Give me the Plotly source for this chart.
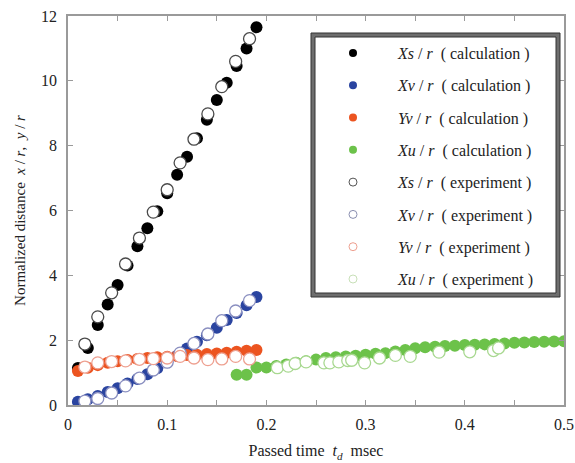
import plotly.graph_objects as go

# ---------------- data ----------------
t_calc = [0.01, 0.02, 0.03, 0.04, 0.05, 0.06, 0.07, 0.08, 0.09, 0.10,
          0.11, 0.12, 0.13, 0.14, 0.15, 0.16, 0.17, 0.18, 0.19]
xs_calc = [1.14, 1.76, 2.47, 3.10, 3.70, 4.30, 4.90, 5.45, 5.98, 6.53,
           7.10, 7.66, 8.23, 8.80, 9.41, 9.94, 10.46, 11.00, 11.65]
xv_calc = [0.10, 0.18, 0.28, 0.40, 0.52, 0.66, 0.80, 0.95, 1.13, 1.32,
           1.52, 1.74, 1.95, 2.15, 2.38, 2.62, 2.84, 3.08, 3.33]
yv_calc = [1.05, 1.15, 1.23, 1.30, 1.35, 1.39, 1.42, 1.45, 1.47, 1.49,
           1.51, 1.54, 1.55, 1.57, 1.59, 1.61, 1.64, 1.67, 1.70]

t_xu_calc = [0.17, 0.18, 0.19, 0.20, 0.21, 0.22, 0.23, 0.24, 0.25, 0.26,
             0.27, 0.28, 0.29, 0.30, 0.31, 0.32, 0.33, 0.34, 0.35, 0.36,
             0.37, 0.38, 0.39, 0.40, 0.41, 0.42, 0.43, 0.44, 0.45, 0.46,
             0.47, 0.48, 0.49, 0.50]
xu_calc = [0.93, 0.93, 1.16, 1.16, 1.20, 1.25, 1.30, 1.35, 1.40, 1.45,
           1.47, 1.50, 1.52, 1.55, 1.58, 1.60, 1.65, 1.70, 1.75, 1.78,
           1.80, 1.82, 1.83, 1.85, 1.86, 1.87, 1.88, 1.90, 1.92, 1.93,
           1.94, 1.95, 1.96, 1.97]

t_exp = [0.017, 0.030, 0.044, 0.058, 0.072, 0.086, 0.100, 0.113, 0.127,
         0.141, 0.155, 0.169, 0.183]
xs_exp = [1.88, 2.72, 3.46, 4.35, 5.15, 5.95, 6.64, 7.47, 8.20, 8.98,
          9.82, 10.60, 11.30]
xv_exp = [0.12, 0.20, 0.37, 0.59, 0.83, 1.08, 1.32, 1.60, 1.90, 2.19,
          2.60, 2.90, 3.22]
yv_exp = [1.17, 1.30, 1.34, 1.36, 1.41, 1.43, 1.45, 1.50, 1.45, 1.40,
          1.42, 1.50, 1.42]

t_xu_exp = [0.211, 0.222, 0.229, 0.240, 0.258, 0.264, 0.273, 0.282, 0.286,
            0.299, 0.314, 0.330, 0.345, 0.374, 0.405, 0.429, 0.434]
xu_exp = [1.15, 1.20, 1.28, 1.33, 1.30, 1.30, 1.33, 1.37, 1.38,
          1.30, 1.45, 1.53, 1.50, 1.63, 1.64, 1.68, 1.76]

x_tickvals = [0, 0.1, 0.2, 0.3, 0.4, 0.5]
x_ticktext = ["0", "0.1", "0.2", "0.3", "0.4", "0.5"]
x_minor_ticks = [0.05, 0.15, 0.25, 0.35, 0.45]
y_tickvals = [0, 2, 4, 6, 8, 10, 12]

names = [
    "<i>Xs</i> / <i>r</i>  ( calculation )",
    "<i>Xv</i> / <i>r</i>  ( calculation )",
    "<i>Yv</i> / <i>r</i>  ( calculation )",
    "<i>Xu</i> / <i>r</i>  ( calculation )",
    "<i>Xs</i> / <i>r</i>  ( experiment )",
    "<i>Xv</i> / <i>r</i>  ( experiment )",
    "<i>Yv</i> / <i>r</i>  ( experiment )",
    "<i>Xu</i> / <i>r</i>  ( experiment )",
]

# ---------------- styles ----------------
BLACK = "#000000"
BLUE = "#2a44a0"
RED = "#ec5420"
GREEN = "#6cc24a"
FONT = "Liberation Serif, Times New Roman, serif"
MS = 12

fig = go.Figure()

calc_sets = [(t_calc, xs_calc, BLACK), (t_calc, xv_calc, BLUE),
             (t_calc, yv_calc, RED), (t_xu_calc, xu_calc, GREEN)]
exp_sets = [(t_exp, xs_exp, "#4a4a4a"), (t_exp, xv_exp, "#8a8fc0"),
            (t_exp, yv_exp, "#eea090"), (t_xu_exp, xu_exp, "#a8d890")]

for (tx, yy, c) in calc_sets:
    fig.add_trace(go.Scatter(x=tx, y=yy, mode="markers", showlegend=False,
                             marker=dict(size=MS, color=c, line=dict(width=0))))
for (tx, yy, c) in exp_sets:
    fig.add_trace(go.Scatter(x=tx, y=yy, mode="markers", showlegend=False,
                             marker=dict(size=MS, color="white",
                                         line=dict(width=1.3, color=c))))

# legend-only entries with small symbols
leg_cols = [BLACK, BLUE, RED, GREEN]
leg_open = ["#555555", "#8a8fb0", "#eea090", "#c8e0b8"]
for i in range(8):
    if i < 4:
        mk = dict(size=8, color=leg_cols[i], line=dict(width=0))
    else:
        mk = dict(size=8, color="white", line=dict(width=1, color=leg_open[i - 4]))
    fig.add_trace(go.Scatter(x=[None], y=[None], mode="markers", name=names[i],
                             legendgroup=f"g{i}", marker=mk))

L, R, T, B = 68, 11, 16, 58
W, H = 575, 463
pw, ph = W - L - R, H - T - B


def px(x):
    return (x - L) / pw


def py(y):
    return (H - B - y) / ph


# legend frame (double border)
x0, x1, y0, y1 = 313, 558, 35, 295
fig.add_shape(type="rect", xref="paper", yref="paper",
              x0=px(x0), x1=px(x1), y0=py(y1), y1=py(y0),
              line=dict(color="#6e6e6e", width=4), fillcolor="white", layer="above")
fig.add_shape(type="rect", xref="paper", yref="paper",
              x0=px(x0 - 2), x1=px(x1 + 2), y0=py(y1 + 2), y1=py(y0 - 2),
              line=dict(color="#333333", width=1), layer="above")
fig.add_shape(type="rect", xref="paper", yref="paper",
              x0=px(x0 + 2), x1=px(x1 - 2), y0=py(y1 - 2), y1=py(y0 + 2),
              line=dict(color="#333333", width=1), layer="above")

axis_common = dict(showline=True, linecolor="#9a9a9a", linewidth=1.5, mirror="ticks",
                   ticks="inside", ticklen=5, tickcolor="#9a9a9a", showgrid=False,
                   zeroline=False, automargin=False, ticklabeloverflow="allow",
                   tickfont=dict(family=FONT, size=16, color="#222"))

fig.update_layout(
    width=W, height=H,
    margin=dict(l=L, r=R, t=T, b=B),
    paper_bgcolor="white", plot_bgcolor="white",
    font=dict(family=FONT, color="#222"),
    xaxis=dict(range=[0, 0.5], tickvals=x_tickvals, ticktext=x_ticktext,
               minor=dict(tickvals=x_minor_ticks, ticks="inside", ticklen=5,
                          tickcolor="#9a9a9a", showgrid=False),
               title=dict(text="Passed time  <i>t<sub>d</sub></i>  msec",
                          font=dict(family=FONT, size=16), standoff=13),
               ticklabelstandoff=4, **axis_common),
    yaxis=dict(range=[0, 12], tickvals=y_tickvals,
               title=dict(text="Normalized distance  <i>x</i> / <i>r</i>,  <i>y</i> / <i>r</i>",
                          font=dict(family=FONT, size=15), standoff=12),
               ticklabelstandoff=6, **axis_common),
    legend=dict(x=px(308), y=py(36), xanchor="left", yanchor="top",
                bgcolor="rgba(0,0,0,0)", borderwidth=0, tracegroupgap=8.5,
                itemwidth=80, font=dict(family=FONT, size=16, color="#222")),
)

fig.write_html("out.html")
